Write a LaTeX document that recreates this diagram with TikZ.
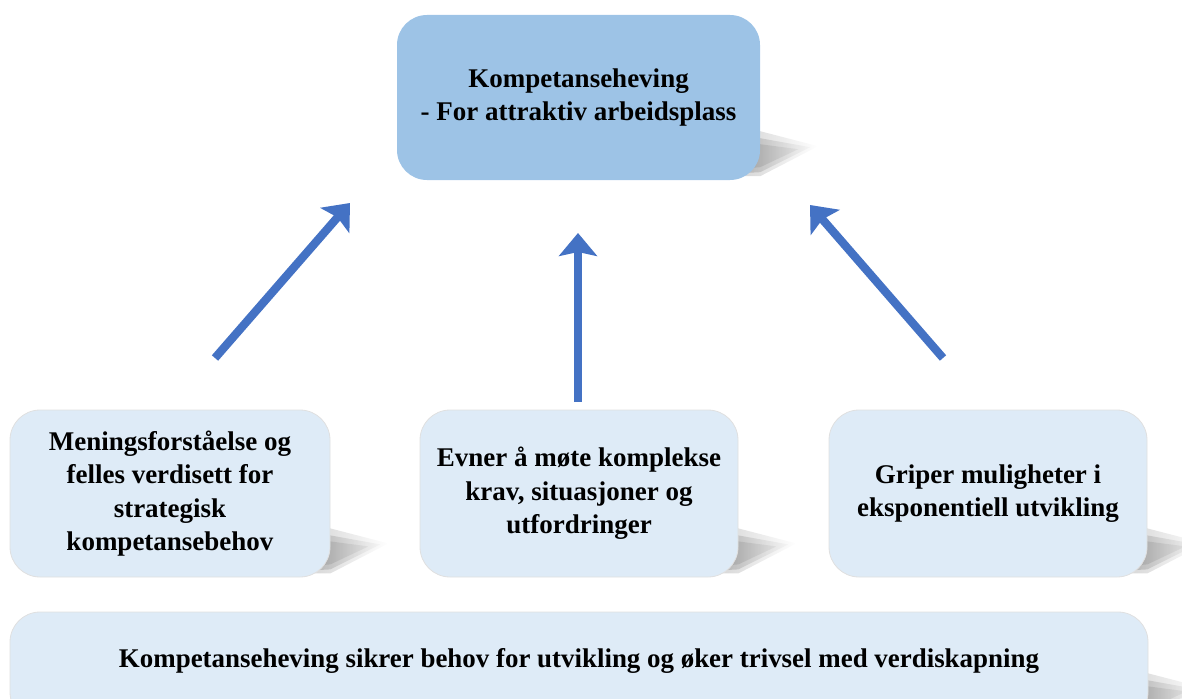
\documentclass[tikz,border=0pt]{standalone}
\usepackage{fontspec}
\setmainfont{Liberation Serif}
\usetikzlibrary{arrows.meta,backgrounds}
\definecolor{topfill}{HTML}{9DC3E6}
\definecolor{boxfill}{HTML}{DEEBF7}
\definecolor{arrowblue}{HTML}{4472C4}

\tikzset{
  boxbase/.style={rectangle, rounded corners=30pt, inner sep=0pt, align=center,
    font=\bfseries\fontsize{27}{33.5}\selectfont},
  topbox/.style={boxbase, fill=topfill, minimum width=363pt, minimum height=165pt},
  lowbox/.style={boxbase, fill=boxfill, draw=black!12, line width=0.8pt,
    minimum width=318pt, minimum height=167pt},
  txt/.style={align=center, inner sep=0pt, font=\bfseries\fontsize{27}{33.5}\selectfont},
  uparrow/.style={draw=arrowblue, line width=8.3pt,
    -{Stealth[length=23pt,width=38pt,inset=4pt]}},
  % soft perspective shadow cast to the lower right of a box
  castshadow/.pic={
    \shade[left color=black!40, right color=white, fill opacity=0.5]
      (-40,-4) -- (-10,-49) -- (0,-49) -- (58,-34) -- (0,-4) -- cycle;
    \shade[left color=black!50, right color=black!5, fill opacity=0.6]
      (-40,-6) -- (-10,-43) -- (0,-42) -- (50,-33) -- (0,-8) -- cycle;
    \shade[left color=black!55, right color=black!15, fill opacity=0.6]
      (-40,-10) -- (-10,-37) -- (0,-36) -- (38,-31) -- (0,-13) -- cycle;
  }
}

\begin{document}
\begin{tikzpicture}[x=1pt,y=-1pt]
\useasboundingbox (0,0) rectangle (1182,698);

% goal box
\node[topbox] (goal) at (578.5,97.5)
  {Kompetanseheving\\- For attraktiv arbeidsplass};

% three contributing boxes
\node[lowbox, minimum width=320pt] (meaning) at (170,493.5)
  {Meningsforståelse og\\felles verdisett for\\strategisk\\kompetansebehov};
\node[lowbox] (ability) at (579,493.5)
  {Evner å møte komplekse\\krav, situasjoner og\\utfordringer};
\node[lowbox] (seize) at (988,493.5)
  {Griper muligheter i\\eksponentiell utvikling};

% foundation band
\node[boxbase, fill=boxfill, draw=black!12, line width=0.8pt,
      minimum width=1138pt, minimum height=110pt] (base) at (579,667) {};
\node[txt] (basetext) at (579,661)
  {\resizebox{920pt}{\height}{Kompetanseheving sikrer behov for utvikling og øker trivsel med verdiskapning}};

% shadows behind the boxes
\begin{scope}[on background layer]
  \pic at (goal.south east) {castshadow};
  \pic at (meaning.south east) {castshadow};
  \pic at (ability.south east) {castshadow};
  \pic at (seize.south east) {castshadow};
  \pic at (base.south east) {castshadow};
\end{scope}

% arrows pointing up to the goal
\coordinate (a1s) at (215,358);  \coordinate (a1e) at (350,203);
\coordinate (a2s) at (578,402);  \coordinate (a2e) at (578,233);
\coordinate (a3s) at (943,358);  \coordinate (a3e) at (810,205);
\draw[uparrow] (a1s) -- (a1e);
\draw[uparrow] (a2s) -- (a2e);
\draw[uparrow] (a3s) -- (a3e);
\end{tikzpicture}
\end{document}
